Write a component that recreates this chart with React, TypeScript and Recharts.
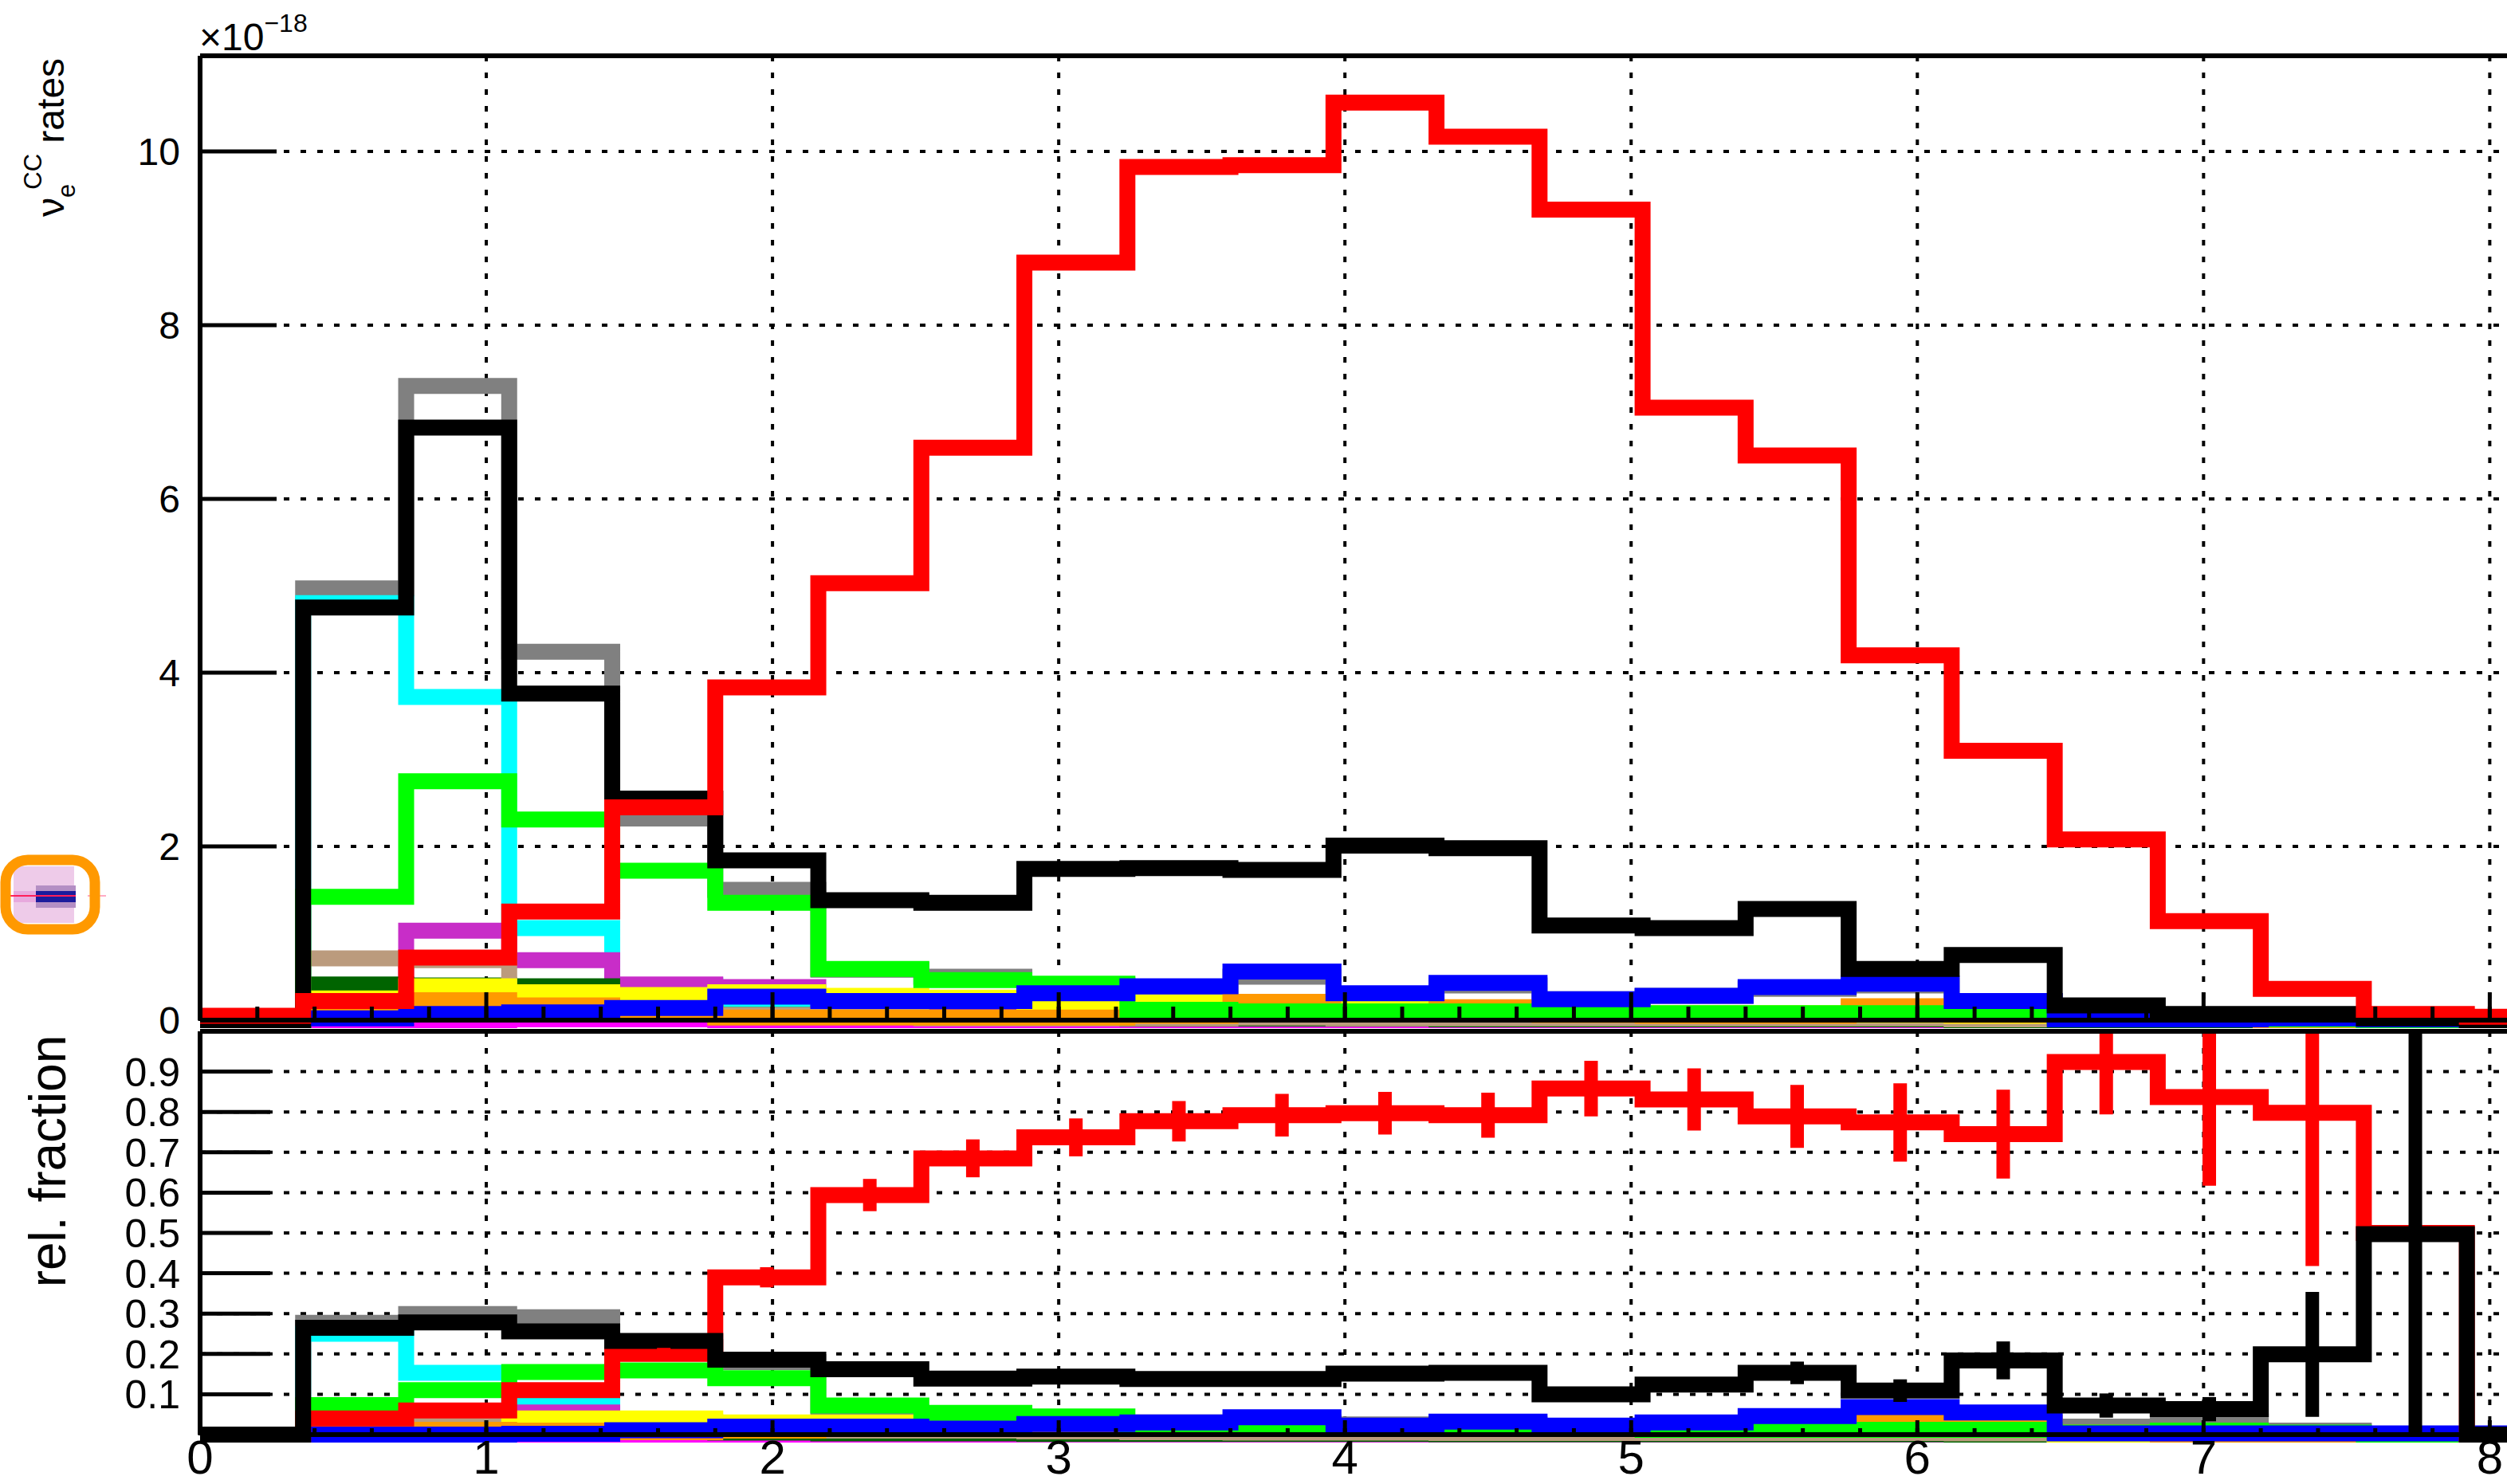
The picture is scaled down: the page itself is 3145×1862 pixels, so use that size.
import React from "react";
import { ComposedChart, Line, XAxis, YAxis, CartesianGrid, Scatter, ErrorBar } from "recharts";

// 23 bins of width 0.36 (edges 0 .. 8.28); the picture is cut at x ~ 8.06
const BIN_EDGES = [0, 0.36, 0.72, 1.08, 1.44, 1.8, 2.16, 2.52, 2.88, 3.24, 3.6, 3.96, 4.32, 4.68, 5.04, 5.4, 5.76, 6.12, 6.48, 6.84, 7.2, 7.56, 7.92, 8.28];
const BIN_CENTERS = [0.18, 0.54, 0.9, 1.26, 1.62, 1.98, 2.34, 2.7, 3.06, 3.42, 3.78, 4.14, 4.5, 4.86, 5.22, 5.58, 5.94, 6.3, 6.66, 7.02, 7.38, 7.74, 8.1];

// ---- upper pad: nu_e CC rates (units of 1e-18) ----
const RED_TOP = [0.05, 0.22, 0.72, 1.25, 2.45, 3.83, 5.03, 6.59, 8.72, 9.82, 9.84, 10.56, 10.17, 9.33, 7.05, 6.5, 4.2, 3.1, 2.08, 1.14, 0.36, 0.07, 0.04];
const BLACK_TOP = [0, 4.75, 6.82, 3.76, 2.55, 1.84, 1.38, 1.35, 1.74, 1.75, 1.73, 2.01, 1.98, 1.09, 1.06, 1.28, 0.59, 0.75, 0.17, 0.07, 0.07, 0.02, 0];
const GRAY_TOP = [0, 4.97, 7.3, 4.24, 2.32, 1.5, 0.58, 0.5, 0.4, 0.38, 0.5, 0.3, 0.4, 0.24, 0.28, 0.36, 0.4, 0.22, 0.05, 0.04, 0.02, 0.01, 0];
const CYAN_TOP = [0, 4.8, 3.72, 1.06, 0.4, 0.1, 0.06, 0.05, 0.04, 0.03, 0.03, 0.03, 0.02, 0.02, 0.02, 0.02, 0.02, 0.01, 0.01, 0, 0, 0, 0];
const GREEN_TOP = [0, 1.42, 2.75, 2.31, 1.72, 1.35, 0.59, 0.46, 0.42, 0.12, 0.1, 0.1, 0.1, 0.1, 0.08, 0.08, 0.08, 0.08, 0.02, 0.01, 0.01, 0, 0];
const DKGREEN_TOP = [0, 0.41, 0.4, 0.39, 0.12, 0.06, 0.04, 0.03, 0.03, 0.02, 0.02, 0.02, 0.01, 0.01, 0.01, 0.01, 0.01, 0, 0, 0, 0, 0, 0];
const TAN_TOP = [0, 0.71, 0.69, 0.28, 0.2, 0.06, 0.05, 0.02, 0.02, 0.02, 0.03, 0.02, 0.02, 0.02, 0.02, 0.02, 0.02, 0.01, 0.01, 0.01, 0, 0, 0];
const YELLOW_TOP = [0, 0.25, 0.39, 0.32, 0.29, 0.32, 0.28, 0.26, 0.14, 0.2, 0.15, 0.17, 0.1, 0.12, 0.08, 0.08, 0.06, 0.05, 0.01, 0.01, 0, 0, 0];
const ORANGE_TOP = [0, 0.05, 0.23, 0.17, 0.1, 0.03, 0.03, 0.03, 0.03, 0.05, 0.21, 0.08, 0.15, 0.06, 0.05, 0.05, 0.16, 0.06, 0.02, 0.01, 0, 0, 0];
const PURPLE_TOP = [0, 0.2, 1.03, 0.69, 0.41, 0.38, 0.2, 0.08, 0.02, 0.01, 0.01, 0.01, 0.01, 0.01, 0.01, 0.01, 0.01, 0.01, 0, 0, 0, 0, 0];
const MAGENTA_TOP = [0, 0, 0, 0.01, 0.01, 0, 0, 0, 0, 0, 0, 0, 0, 0, 0, 0, 0, 0, 0, 0, 0, 0, 0];
const BLUE_TOP = [0, 0.02, 0.07, 0.09, 0.14, 0.27, 0.22, 0.22, 0.31, 0.39, 0.56, 0.31, 0.43, 0.24, 0.28, 0.38, 0.42, 0.22, 0.01, 0.01, 0.02, 0.01, 0];

// ---- lower pad: relative fraction ----
const RED_BOT = [0, 0.04, 0.06, 0.11, 0.2, 0.39, 0.594, 0.685, 0.737, 0.777, 0.792, 0.797, 0.792, 0.858, 0.831, 0.789, 0.774, 0.745, 0.924, 0.837, 0.798, 0.5, 0];
// error bar extents below / above the bin value (tops cut at the frame as in the picture)
const RED_ERR_DOWN = [0, 0.005, 0.005, 0.01, 0.015, 0.025, 0.04, 0.047, 0.047, 0.05, 0.053, 0.053, 0.056, 0.069, 0.077, 0.078, 0.097, 0.11, 0.13, 0.22, 0.38, 0, 0];
const RED_ERR_UP = [0, 0.005, 0.005, 0.01, 0.015, 0.025, 0.04, 0.047, 0.047, 0.05, 0.053, 0.053, 0.056, 0.069, 0.077, 0.078, 0.097, 0.11, 0.076, 0.163, 0.202, 0, 0];
const BLACK_BOT = [0, 0.265, 0.278, 0.256, 0.232, 0.186, 0.162, 0.139, 0.144, 0.138, 0.138, 0.151, 0.153, 0.1, 0.124, 0.153, 0.109, 0.184, 0.072, 0.063, 0.199, 0.497, 0];
const BLACK_ERR_DOWN = [0, 0.005, 0.005, 0.005, 0.005, 0.007, 0.007, 0.007, 0.007, 0.007, 0.008, 0.008, 0.008, 0.01, 0.018, 0.028, 0.028, 0.047, 0.03, 0.03, 0.155, 0.497, 0];
const BLACK_ERR_UP = [0, 0.005, 0.005, 0.005, 0.005, 0.007, 0.007, 0.007, 0.007, 0.007, 0.008, 0.008, 0.008, 0.01, 0.018, 0.028, 0.028, 0.047, 0.03, 0.03, 0.155, 0.503, 0];
const GRAY_BOT = [0, 0.277, 0.299, 0.291, 0.217, 0.18, 0.04, 0.035, 0.03, 0.03, 0.03, 0.025, 0.025, 0.02, 0.02, 0.02, 0.02, 0.02, 0.02, 0.032, 0.01, 0, 0];
const CYAN_BOT = [0, 0.25, 0.153, 0.072, 0.03, 0.01, 0.005, 0.005, 0.004, 0.003, 0.003, 0.003, 0.002, 0.002, 0.002, 0.002, 0.002, 0.001, 0, 0, 0, 0, 0];
const GREEN_BOT = [0, 0.073, 0.11, 0.155, 0.159, 0.14, 0.072, 0.054, 0.045, 0.015, 0.02, 0.015, 0.015, 0.015, 0.012, 0.012, 0.012, 0.012, 0.005, 0.01, 0.005, 0, 0];
const DKGREEN_BOT = [0, 0.02, 0.02, 0.02, 0.01, 0.005, 0.003, 0.003, 0.002, 0.002, 0.002, 0.002, 0.001, 0.001, 0.001, 0.001, 0.001, 0, 0, 0, 0, 0, 0];
const TAN_BOT = [0, 0.034, 0.038, 0.035, 0.03, 0.015, 0.01, 0.01, 0.008, 0.006, 0.005, 0.005, 0.004, 0.004, 0.004, 0.004, 0.004, 0.003, 0, 0, 0, 0, 0];
const YELLOW_BOT = [0, 0.005, 0.01, 0.04, 0.04, 0.03, 0.03, 0.02, 0.015, 0.015, 0.02, 0.015, 0.015, 0.015, 0.012, 0.012, 0.012, 0.012, 0, 0, 0, 0, 0];
const ORANGE_BOT = [0, 0.003, 0.012, 0.01, 0.006, 0.01, 0.02, 0.02, 0.015, 0.015, 0.02, 0.015, 0.015, 0.015, 0.012, 0.018, 0.035, 0.03, 0.005, 0, 0, 0, 0];
const PURPLE_BOT = [0, 0.03, 0.045, 0.055, 0.03, 0.02, 0.008, 0.004, 0, 0, 0, 0, 0, 0, 0, 0, 0, 0, 0, 0, 0, 0, 0];
const MAGENTA_BOT = [0, 0, 0, 0, 0, 0, 0, 0, 0, 0, 0, 0, 0, 0, 0, 0, 0, 0, 0, 0, 0, 0, 0];
const BLUE_BOT = [0, 0, 0, 0.002, 0.011, 0.02, 0.02, 0.015, 0.026, 0.03, 0.043, 0.022, 0.032, 0.022, 0.03, 0.046, 0.068, 0.055, 0.003, 0.003, 0.003, 0.003, 0.003];

// ticks
const X_MAJOR = [0, 1, 2, 3, 4, 5, 6, 7, 8];
const Y_TOP_MAJOR = [0, 2, 4, 6, 8, 10];
const Y_BOT_MAJOR = [0, 0.1, 0.2, 0.3, 0.4, 0.5, 0.6, 0.7, 0.8, 0.9, 1];

const steps = (from: number, to: number, step: number) => {
  const out: number[] = [];
  for (let i = 0; from + i * step <= to + 1e-9; i++) out.push(+(from + i * step).toFixed(4));
  return out;
};
const X_MINOR = steps(0, 8.4, 0.2);
const Y_TOP_MINOR = steps(0, 11, 0.5);
const Y_BOT_MINOR = steps(0, 1, 0.02);

const C = {
  gray: "#808080", cyan: "#00ffff", green: "#00ff00", dkgreen: "#006400", tan: "#bb9b7d",
  yellow: "#ffff00", orange: "#ff9900", purple: "#c82dc8", magenta: "#ff00ff", blue: "#0000ff",
  black: "#000000", red: "#ff0000",
};

type Series = { key: string; color: string; values: number[] };

// drawing order: later entries sit on top
const TOP_SERIES: Series[] = [
  { key: "magenta", color: C.magenta, values: MAGENTA_TOP },
  { key: "gray", color: C.gray, values: GRAY_TOP },
  { key: "cyan", color: C.cyan, values: CYAN_TOP },
  { key: "purple", color: C.purple, values: PURPLE_TOP },
  { key: "dkgreen", color: C.dkgreen, values: DKGREEN_TOP },
  { key: "tan", color: C.tan, values: TAN_TOP },
  { key: "yellow", color: C.yellow, values: YELLOW_TOP },
  { key: "orange", color: C.orange, values: ORANGE_TOP },
  { key: "green", color: C.green, values: GREEN_TOP },
  { key: "blue", color: C.blue, values: BLUE_TOP },
  { key: "black", color: C.black, values: BLACK_TOP },
  { key: "red", color: C.red, values: RED_TOP },
];

const BOT_SERIES: Series[] = [
  { key: "magenta", color: C.magenta, values: MAGENTA_BOT },
  { key: "gray", color: C.gray, values: GRAY_BOT },
  { key: "cyan", color: C.cyan, values: CYAN_BOT },
  { key: "purple", color: C.purple, values: PURPLE_BOT },
  { key: "dkgreen", color: C.dkgreen, values: DKGREEN_BOT },
  { key: "tan", color: C.tan, values: TAN_BOT },
  { key: "yellow", color: C.yellow, values: YELLOW_BOT },
  { key: "orange", color: C.orange, values: ORANGE_BOT },
  { key: "green", color: C.green, values: GREEN_BOT },
  { key: "blue", color: C.blue, values: BLUE_BOT },
  { key: "red", color: C.red, values: RED_BOT },
  { key: "black", color: C.black, values: BLACK_BOT },
];

// one row per bin edge; stepAfter draws each bin's level up to the next edge
const toSteps = (series: Series[]) =>
  BIN_EDGES.map((x, i) => {
    const row: Record<string, number> = { x };
    series.forEach((s) => (row[s.key] = s.values[Math.min(i, s.values.length - 1)]));
    return row;
  });

const topData = toSteps(TOP_SERIES);
const botData = toSteps(BOT_SERIES);

const errPoints = (vals: number[], down: number[], up: number[]) =>
  BIN_CENTERS.map((x, i) => ({ x, y: vals[i], err: [down[i], up[i]] })).filter((p) => p.err[0] + p.err[1] > 0);
const redErrData = errPoints(RED_BOT, RED_ERR_DOWN, RED_ERR_UP);
const blackErrData = errPoints(BLACK_BOT, BLACK_ERR_DOWN, BLACK_ERR_UP);

const FONT = "'Liberation Sans', Arial, Helvetica, sans-serif";
const LW = 20;
const X_MAX = 8.4;
const CHART_W = 3267;

const yTick = (len: number, fontSize: number, label: (v: number) => string | null) => (props: any) => {
  const { x, y, payload } = props;
  const txt = label(payload.value);
  return (
    <g>
      <line x1={x} x2={x + len} y1={y} y2={y} stroke="#000" strokeWidth={5} />
      {txt !== null && (
        <text x={x - 25} y={y} dy="0.36em" textAnchor="end" fontSize={fontSize} fontFamily={FONT} fill="#000">
          {txt}
        </text>
      )}
    </g>
  );
};

const xTick = (len: number, fontSize: number, labelled: boolean) => (props: any) => {
  const { x, y, payload } = props;
  return (
    <g>
      <line x1={x} x2={x} y1={y} y2={y - len} stroke="#000" strokeWidth={5} />
      {labelled && (
        <text x={x} y={y + 49} textAnchor="middle" fontSize={fontSize} fontFamily={FONT} fill="#000">
          {payload.value}
        </text>
      )}
    </g>
  );
};

const noShape = () => <g />;

const renderLines = (series: Series[]) =>
  series.map((s) => (
    <Line
      key={s.key}
      type="stepAfter"
      dataKey={s.key}
      stroke={s.color}
      strokeWidth={LW}
      strokeLinejoin="miter"
      strokeLinecap="butt"
      dot={false}
      activeDot={false}
      isAnimationActive={false}
    />
  ));

const frameLine = { stroke: "#000", strokeWidth: 6 };

function TopPad() {
  return (
    <ComposedChart
      width={CHART_W}
      height={1320}
      data={topData}
      margin={{ top: 69, right: 0, bottom: 38, left: 249 }}
      style={{ position: "absolute", left: 0, top: 0 }}
    >
      <CartesianGrid stroke="#000" strokeWidth={4} strokeDasharray="7 14" />
      <XAxis xAxisId={0} type="number" dataKey="x" domain={[0, X_MAX]} ticks={X_MAJOR} interval={0}
        height={1} tickSize={0} tickMargin={0} axisLine={frameLine} tickLine={false}
        tick={xTick(35, 0, false)} />
      <XAxis xAxisId="minor" type="number" dataKey="x" domain={[0, X_MAX]} ticks={X_MINOR} interval={0}
        height={1} tickSize={0} tickMargin={0} axisLine={false} tickLine={false} tick={xTick(18, 0, false)} />
      <XAxis xAxisId="frame" orientation="top" type="number" dataKey="x" domain={[0, X_MAX]} height={1}
        axisLine={frameLine} tick={false} tickLine={false} />
      <YAxis yAxisId={0} domain={[0, 11.1]} ticks={Y_TOP_MAJOR} interval={0} width={1} tickSize={0} tickMargin={0}
        axisLine={frameLine} tickLine={false} tick={yTick(96, 48, (v) => String(v))} />
      <YAxis yAxisId="minor" domain={[0, 11.1]} ticks={Y_TOP_MINOR} interval={0} width={1} tickSize={0} tickMargin={0}
        axisLine={false} tickLine={false} tick={yTick(47, 0, () => null)} />
      {renderLines(TOP_SERIES)}
    </ComposedChart>
  );
}

function BottomPad() {
  return (
    <ComposedChart
      width={CHART_W}
      height={618}
      data={botData}
      margin={{ top: 49, right: 0, bottom: 60, left: 249 }}
      style={{ position: "absolute", left: 0, top: 1244 }}
    >
      <CartesianGrid stroke="#000" strokeWidth={4} strokeDasharray="7 14" />
      <XAxis xAxisId={0} type="number" dataKey="x" domain={[0, X_MAX]} ticks={X_MAJOR} interval={0}
        height={1} tickSize={0} tickMargin={0} axisLine={frameLine} tickLine={false}
        tick={xTick(18, 60, true)} />
      <XAxis xAxisId="minor" type="number" dataKey="x" domain={[0, X_MAX]} ticks={X_MINOR} interval={0}
        height={1} tickSize={0} tickMargin={0} axisLine={false} tickLine={false} tick={xTick(9, 0, false)} />
      <XAxis xAxisId="frame" orientation="top" type="number" dataKey="x" domain={[0, X_MAX]} height={1}
        axisLine={frameLine} tick={false} tickLine={false} />
      <YAxis yAxisId={0} domain={[0, 1]} ticks={Y_BOT_MAJOR} interval={0} width={1} tickSize={0} tickMargin={0}
        axisLine={frameLine} tickLine={false}
        tick={yTick(88, 50, (v) => (v > 0 && v < 1 ? v.toFixed(1) : null))} />
      <YAxis yAxisId="minor" domain={[0, 1]} ticks={Y_BOT_MINOR} interval={0} width={1} tickSize={0} tickMargin={0}
        axisLine={false} tickLine={false} tick={yTick(45, 0, () => null)} />
      <YAxis yAxisId="err" dataKey="y" domain={[0, 1]} allowDataOverflow hide width={0} />
      {renderLines(BOT_SERIES)}
      <Scatter data={redErrData} dataKey="y" yAxisId="err" shape={noShape} isAnimationActive={false}>
        <ErrorBar dataKey="err" direction="y" width={0} stroke={C.red} strokeWidth={17} isAnimationActive={false} />
      </Scatter>
      <Scatter data={blackErrData} dataKey="y" yAxisId="err" shape={noShape} isAnimationActive={false}>
        <ErrorBar dataKey="err" direction="y" width={0} stroke={C.black} strokeWidth={17} isAnimationActive={false} />
      </Scatter>
    </ComposedChart>
  );
}

function Labels() {
  return (
    <svg width={3145} height={1862} style={{ position: "absolute", left: 0, top: 0, pointerEvents: "none" }}>
      <text x={250} y={63} fontSize={48} fontFamily={FONT} fill="#000">
        ×10<tspan dy={-23} fontSize={32}>−18</tspan>
      </text>
      <text transform="translate(80,272) rotate(-90)" fontSize={48} fontFamily={FONT} fill="#000">
        ν<tspan dy={14} fontSize={31}>e</tspan>
        <tspan dx={-7} dy={-42} fontSize={31}>CC</tspan>
        <tspan dy={28}> rates</tspan>
      </text>
      <text transform="translate(82,1457) rotate(-90)" textAnchor="middle" fontSize={64} fontFamily={FONT} fill="#000">
        rel. fraction
      </text>
      <defs>
        <clipPath id="iconClip">
          <rect x={13} y={1085} width={100} height={75} rx={22} />
        </clipPath>
      </defs>
      <g clipPath="url(#iconClip)">
        <rect x={17} y={1087} width={76} height={71} fill="#eecbe9" />
        <rect x={17} y={1118} width={28} height={14} fill="#e7a9dd" />
        <rect x={45} y={1111} width={50} height={28} fill="#b48fc4" />
        <rect x={45} y={1118} width={50} height={14} fill="#1c1c9c" />
        <line x1={7} x2={95} y1={1124} y2={1124} stroke="#ff1f5a" strokeWidth={2} />
      </g>
      <line x1={110} x2={133} y1={1124} y2={1124} stroke="#ff8fb0" strokeWidth={1.5} />
      <rect x={7} y={1079} width={112} height={87} rx={28} fill="none" stroke="#ff9900" strokeWidth={13} />
    </svg>
  );
}

export default function App() {
  return (
    <div style={{ position: "absolute", left: 0, top: 0, width: 3145, height: 1862, overflow: "hidden", background: "#fff" }}>
      <TopPad />
      <BottomPad />
      <Labels />
    </div>
  );
}
